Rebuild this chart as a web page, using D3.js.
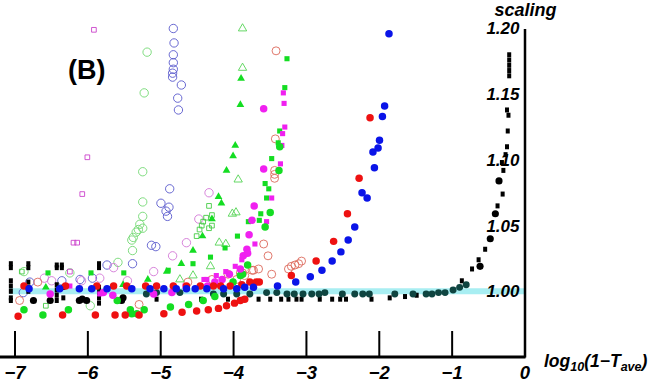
<!DOCTYPE html>
<html>
<head>
<meta charset="utf-8">
<script src="https://cdn.jsdelivr.net/npm/d3@7"></script>
<style>
  body { margin: 0; background: #fff; }
  svg text { font-family: "Liberation Sans", Arial, sans-serif; font-weight: bold; font-style: italic; }
</style>
</head>
<body>
<div id="chart"></div>
<script>
// x = log10(1 - T_ave), y = scaling
let xTicks = [-7, -6, -5, -4, -3, -2, -1, 0]
let yTicks = [1.00, 1.05, 1.10, 1.15, 1.20]

let blueFilled = [[-6.80,1.002],[-6.38,1.002],[-6.11,1.002],[-5.94,1.002],[-5.73,1.002],[-5.39,1.002],[-5.14,1.002],[-4.95,1.002],[-4.78,1.002],[-4.64,1.002],[-4.52,1.002],[-4.36,1.002],[-4.13,1.002],[-3.95,1.002],[-3.84,1.003],[-3.72,1.003],
  [-3.39,1.004],[-3.14,1.007],[-2.94,1.011],[-2.78,1.016],[-2.64,1.023],[-2.52,1.030],[-2.42,1.039],[-2.33,1.049],[-2.23,1.075],[-2.16,1.071],[-2.06,1.094],[-2.08,1.106],[-2.01,1.109],[-1.99,1.115],[-1.95,1.133],[-1.92,1.141],[-1.86,1.196]]

let redFilled = [[-6.87,1.004],[-6.30,1.004],[-5.87,1.004],[-5.64,1.004],[-5.46,1.004],[-5.20,1.004],[-5.05,1.004],[-4.82,1.004],[-4.64,1.004],[-4.45,1.004],[-4.27,1.004],[-4.17,1.004],[-4.04,1.004],[-3.88,1.005],[-3.77,1.007],[-3.68,1.007],[-3.64,1.007],
  [-6.95,0.981],[-6.34,0.982],[-5.89,0.982],[-5.62,0.982],[-5.48,0.982],[-5.29,0.982],[-4.95,0.983],[-4.70,0.984],[-4.50,0.985],[-4.34,0.986],[-4.20,0.987],[-4.09,0.989],[-3.98,0.991],[-3.90,0.993],[-3.84,0.994],
  [-3.20,1.012],[-2.86,1.023],[-2.62,1.038],[-2.43,1.059],[-2.27,1.086],[-2.12,1.132]]

let greenFilled = [[-6.87,0.986],[-6.61,0.982],[-6.26,0.986],[-5.59,0.993],[-5.41,0.986],[-5.39,0.983],[-5.32,0.983],[-5.22,0.986],[-4.86,0.988],[-4.61,0.990],[-4.41,0.993],[-4.25,0.996],[-4.00,1.007],[-3.90,1.012],[-3.87,1.013],[-3.80,1.020],[-3.56,1.049],[-3.49,1.060],[-3.37,1.092],[-3.36,1.110]]

let magentaFilled = [[-6.51,0.998],[-5.78,0.999],[-5.65,0.997],[-5.09,0.998],[-4.84,0.999],[-4.35,1.004],[-4.25,1.007],[-4.15,1.009],[-4.05,1.013],[-3.90,1.017],[-3.86,1.027],[-3.81,1.032],[-3.80,1.029],[-3.78,1.043],[-3.74,1.054],[-3.71,1.065],[-3.58,1.093],[-3.58,1.139]]

let magentaSquares = [[-6.24,1.004],[-5.83,0.998],[-4.66,1.004],[-4.40,1.009],[-4.36,1.009],[-4.23,1.012],[-4.10,1.015],[-3.97,1.019],[-3.88,1.024],[-3.70,1.036],[-3.54,1.053],[-3.47,1.071],[-3.35,1.097],[-3.33,1.111],[-3.32,1.120],[-3.29,1.125],[-3.30,1.143],[-3.31,1.151]]

let greenSquares = [[-6.54,1.014],[-5.95,1.014],[-5.50,1.014],[-4.89,1.016],[-4.55,1.021],[-4.31,1.026],[-4.11,1.033],[-3.94,1.042],[-3.79,1.053],[-3.64,1.054],[-3.62,1.059],[-3.54,1.071],[-3.51,1.078],[-3.56,1.082],[-3.47,1.101],[-3.38,1.113],[-3.36,1.122],[-3.29,1.155],[-3.26,1.177]]

let greenTriangles = [[-6.57,1.003],[-5.51,1.005],[-5.17,1.009],[-4.91,1.015],[-4.71,1.021],[-4.55,1.031],[-4.42,1.042],[-4.29,1.055],[-4.20,1.072],[-4.16,1.067],[-4.09,1.092],[-4.00,1.103],[-3.97,1.111],[-3.90,1.142],[-3.89,1.162]]

let greenOpenTriangles = [[-4.73,1.009],[-4.55,1.012],[-4.31,1.019],[-4.19,1.037],[-4.10,1.036],[-4.01,1.059],[-3.96,1.060],[-3.93,1.085],[-3.87,1.170],[-3.87,1.200]]

let greenOpenSquares = [[-6.90,1.015],[-6.57,0.989],[-4.50,1.042],[-4.46,1.047],[-4.43,1.050],[-4.41,1.053],[-4.37,1.056],[-4.33,1.048],[-4.29,1.050],[-4.29,1.058],[-4.33,1.065]]

let magentaOpenSquares = [[-5.91,1.199],[-6.00,1.102],[-6.07,1.074],[-6.19,1.037],[-6.14,1.037],[-6.24,1.015]]

let greenOpenCircles = [[-6.87,1.015],[-6.24,1.014],[-5.96,0.989],[-5.58,1.022],[-5.39,1.039],[-5.38,1.031],[-5.37,1.041],[-5.33,1.045],[-5.30,1.047],[-5.28,1.051],[-5.24,1.048],[-5.24,1.057],[-5.24,1.068],[-5.24,1.091],[-5.22,1.151],[-5.18,1.182]]

let blueOpenCircles = [[-6.88,0.999],[-6.79,1.007],[-6.35,1.008],[-6.10,1.009],[-5.93,1.010],[-5.73,1.020],[-5.38,1.021],[-5.12,1.035],[-5.06,1.034],[-4.99,1.067],[-4.92,1.061],[-4.90,1.057],[-4.88,1.064],[-4.87,1.078],[-4.75,1.138],[-4.76,1.147],[-4.71,1.157],[-4.83,1.163],[-4.83,1.166],[-4.82,1.169],[-4.82,1.174],[-4.82,1.180],[-4.81,1.189],[-4.82,1.200]]

let magentaOpenCircles = [[-6.59,1.010],[-6.49,1.008],[-6.08,1.008],[-5.83,1.010],[-5.64,1.018],[-5.45,1.008],[-5.09,1.015],[-4.83,1.027],[-4.64,1.037],[-4.47,1.055],[-4.33,1.075]]

let salmonOpenCircles = [[-6.93,0.993],[-6.68,1.007],[-5.29,0.990],[-4.62,1.007],[-4.29,1.009],[-4.07,1.013],[-3.95,1.009],[-3.90,1.014],[-3.87,1.014],[-3.84,1.012],[-3.74,1.016],[-3.72,1.016],[-3.65,1.017],[-3.58,1.036],[-3.52,1.027],[-3.47,1.013],[-3.43,1.092],[-3.43,1.089],[-3.43,1.086],[-3.42,1.116],[-3.41,1.183],[-3.24,1.017],[-3.20,1.019],[-3.15,1.020],[-3.10,1.021],[-3.06,1.023]]

let tealFilled = [[-5.19,0.998],[-5.05,0.999],[-4.73,0.999],[-4.27,0.998],[-4.13,0.998],[-3.95,0.998],[-3.77,0.998],[-3.54,0.999],[-3.40,0.999],[-3.26,0.998],[-3.16,0.998],[-3.04,0.998],[-2.92,0.998],[-2.82,0.998],[-2.74,0.999],[-2.50,0.998],[-2.33,0.998],[-2.22,0.998],[-2.13,0.998],[-1.78,0.998],[-1.53,0.998],[-1.35,0.998],[-1.27,0.998],[-1.18,0.999],[-1.09,0.999],[-0.98,1.001],[-0.89,1.003],[-0.80,1.005]]

let blackCircles = [[-6.74,0.993],[-6.51,0.993],[-6.11,0.993],[-6.07,0.994],[-6.01,0.993],[-5.53,0.993],[-5.51,0.995],[-0.61,1.019],[-0.47,1.040],[-0.40,1.059],[-0.35,1.084]]

let blackSquares = [[-7.05,1.021],[-7.05,1.018],[-7.05,1.008],[-7.05,1.004],[-7.05,1.000],[-7.05,0.995],[-7.05,0.993],
  [-6.81,1.021],[-6.81,1.018],[-6.81,1.007],[-6.81,1.003],[-6.81,1.000],
  [-6.42,1.020],[-6.42,1.018],[-6.35,1.020],[-6.35,1.018],[-6.42,1.005],[-6.42,1.001],[-6.42,0.997],[-6.42,0.993],[-6.33,1.003],[-6.33,0.995],
  [-5.84,1.021],[-5.84,1.018],[-5.84,1.003],[-5.84,0.999],[-5.84,0.995],[-5.84,0.991],
  [-5.05,0.994],[-4.44,0.994],[-4.07,0.994],[-3.86,0.994],[-3.65,0.994],[-3.49,0.994],[-3.34,0.994],[-3.24,0.994],[-3.13,0.994],[-3.06,0.994],[-2.81,0.994],[-2.64,0.994],[-2.53,0.994],[-2.45,0.994],[-2.10,0.994],[-1.85,0.995],[-1.64,0.996],[-1.48,0.997],
  [-0.86,1.008],[-0.72,1.017],[-0.63,1.024],[-0.54,1.032],[-0.37,1.065],[-0.30,1.074],[-0.29,1.092],[-0.31,1.098],[-0.26,1.104],[-0.24,1.110],[-0.23,1.122],[-0.22,1.134],[-0.24,1.138],
  [-0.21,1.164],[-0.21,1.168],[-0.21,1.172],[-0.21,1.176],[-0.21,1.180]]

var width = 653, height = 382

var svg = d3.select('#chart').append('svg')
    .attr('width', width)
    .attr('height', height)

var x = d3.scaleLinear().domain([-7, 0]).range([14.5, 524.5])
var y = d3.scaleLinear().domain([0.95, 1.20]).range([357, 28.5])

// cyan reference band at 1.00
svg.append('line')
    .attr('x1', 9).attr('x2', x(0))
    .attr('y1', y(1)).attr('y2', y(1))
    .attr('stroke', '#a8eef2')
    .attr('stroke-width', 6)

// x axis
var xAxis = svg.append('g')
    .attr('transform', 'translate(0,' + y(0.95) + ')')
    .call(d3.axisBottom(x).tickValues(xTicks).tickSize(-26).tickPadding(9).tickFormat(d3.format('d')))
xAxis.select('.domain').remove()
xAxis.selectAll('.tick line').attr('stroke', '#000').attr('stroke-width', 2)
xAxis.selectAll('.tick text').attr('font-size', 18.5).attr('fill', '#000')
    .style('font-family', '"Liberation Sans", Arial, sans-serif')
xAxis.append('line')
    .attr('x1', 0).attr('x2', x(0) + 1)
    .attr('stroke', '#000').attr('stroke-width', 3)

// y axis
var yAxis = svg.append('g')
    .attr('transform', 'translate(' + x(0) + ',0)')
    .call(d3.axisLeft(y).tickValues(yTicks).tickSize(0).tickPadding(5).tickFormat(d3.format('.2f')))
yAxis.select('.domain').attr('stroke', '#000').attr('stroke-width', 2.5)
yAxis.selectAll('.tick text').attr('font-size', 17).attr('fill', '#000')
    .style('font-family', '"Liberation Sans", Arial, sans-serif')

var plot = svg.append('g')

function drawSymbols(data, type, size, fill, stroke, sw) {
    plot.append('g').selectAll('path')
        .data(data)
        .enter()
        .append('path')
        .attr('transform', d => 'translate(' + x(d[0]) + ',' + y(d[1]) + ')')
        .attr('d', d3.symbol().type(type).size(size))
        .attr('fill', fill)
        .attr('stroke', stroke)
        .attr('stroke-width', sw)
}

// open markers first
drawSymbols(blueOpenCircles, d3.symbolCircle, 55, 'none', '#5858cc', 0.9)
drawSymbols(greenOpenCircles, d3.symbolCircle, 55, 'none', '#72d872', 0.9)
drawSymbols(magentaOpenCircles, d3.symbolCircle, 55, 'none', '#d276d6', 0.9)
drawSymbols(salmonOpenCircles, d3.symbolCircle, 50, 'none', '#dc6a5c', 0.9)
drawSymbols(greenOpenSquares, d3.symbolSquare, 22, 'none', '#44cc44', 0.9)
drawSymbols(magentaOpenSquares, d3.symbolSquare, 22, 'none', '#cc44cc', 0.9)
drawSymbols(greenOpenTriangles, d3.symbolTriangle, 30, 'none', '#55d455', 0.9)

// black squares drawn as small upright bars
plot.append('g').selectAll('rect')
    .data(blackSquares)
    .enter()
    .append('rect')
    .attr('x', d => x(d[0]) - 2)
    .attr('y', d => y(d[1]) - 2.5)
    .attr('width', 4)
    .attr('height', 5)
    .attr('fill', '#000')

drawSymbols(tealFilled, d3.symbolCircle, 38, '#0f4541', 'none', 0)
drawSymbols(blackCircles, d3.symbolCircle, 40, '#000', 'none', 0)
drawSymbols(greenTriangles, d3.symbolTriangle, 26, '#14dd22', 'none', 0)
drawSymbols(greenSquares, d3.symbolSquare, 26, '#14dd22', 'none', 0)
drawSymbols(magentaSquares, d3.symbolSquare, 26, '#f020f0', 'none', 0)
drawSymbols(greenFilled, d3.symbolCircle, 44, '#14dd22', 'none', 0)
drawSymbols(magentaFilled, d3.symbolCircle, 44, '#f020f0', 'none', 0)
drawSymbols(redFilled, d3.symbolCircle, 44, '#ee1111', 'none', 0)
drawSymbols(blueFilled, d3.symbolCircle, 44, '#0a14e8', 'none', 0)

// labels
svg.append('text')
    .attr('x', 68).attr('y', 79)
    .style('font-style', 'normal')
    .attr('font-size', 27)
    .text('(B)')

svg.append('text')
    .attr('x', x(0) + 1).attr('y', 16)
    .attr('text-anchor', 'middle')
    .attr('font-size', 18)
    .text('scaling')

var xl = svg.append('text')
    .attr('x', 544).attr('y', 367)
    .attr('font-size', 17.5)
xl.append('tspan').text('log')
xl.append('tspan').attr('dy', 4).attr('font-size', 12.5).text('10')
xl.append('tspan').attr('dy', -4).text('(1\u2212T')
xl.append('tspan').attr('dy', 4).attr('font-size', 12.5).text('ave')
xl.append('tspan').attr('dy', -4).text(')')
</script>
</body>
</html>
